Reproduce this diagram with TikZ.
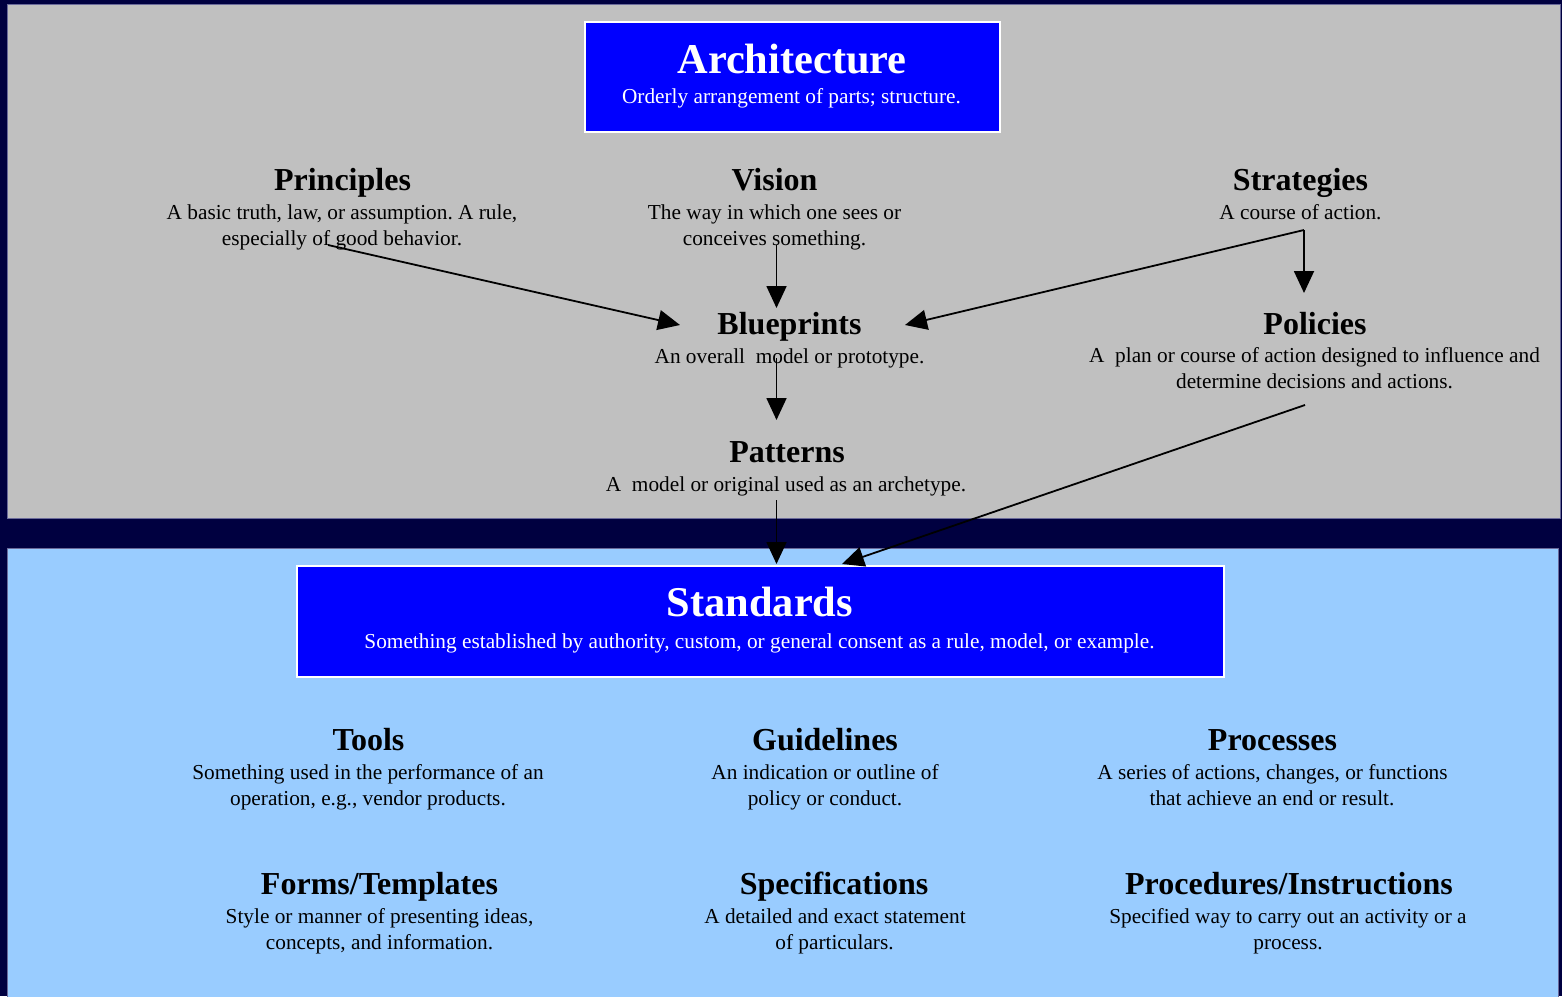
\documentclass[tikz,border=0pt]{standalone}
\usepackage{fontspec}
\setmainfont{Liberation Serif}
\frenchspacing
\usetikzlibrary{arrows.meta}
\definecolor{navy}{HTML}{000040}
\definecolor{panelgray}{HTML}{C0C0C0}
\definecolor{lightblue}{HTML}{99CCFF}
\definecolor{boxblue}{HTML}{0000FF}
\definecolor{paneledge}{HTML}{6A6A9A}
\begin{document}
\begin{tikzpicture}[x=1pt,y=-1pt,
  bigtitle/.style={font=\bfseries\fontsize{42.4}{50}\selectfont, text=white, inner sep=0pt, anchor=base},
  ctitle/.style={font=\bfseries\fontsize{32}{38}\selectfont, text=black, inner sep=0pt, anchor=base},
  desc/.style={font=\fontsize{21.3}{26}\selectfont, text=black, inner sep=0pt, anchor=base},
  wdesc/.style={desc, text=white},
  bluebox/.style={draw=white, line width=2pt, fill=boxblue, inner sep=0pt},
  conn/.style={draw=black, line width=1.8pt, -{Triangle[length=22pt,width=20pt]}}
]
\useasboundingbox (0,0) rectangle (1562,996);
% background and panels
\fill[navy] (0,0) rectangle (1562,996);
\filldraw[fill=panelgray, draw=paneledge, line width=0.6pt] (7,4) rectangle (1560,518);
\filldraw[fill=lightblue, draw=paneledge, line width=0.6pt] (7,548) rectangle (1558,1000);

% boxes
\node[bluebox, minimum width=415pt, minimum height=110pt] (arch) at (792.5,77) {};
\node[bluebox, minimum width=927pt, minimum height=111pt] (std) at (760.5,621.5) {};

% Architecture
\node[bigtitle] (archT) at (792,73) {Architecture};
\node[wdesc] (archD) at (791.5,103) {Orderly arrangement of parts; structure.};

% top row
\node[ctitle] (prT) at (342.5,190) {Principles};
\node[desc] (prD1) at (342,219) {A basic truth, law, or assumption. A rule,};
\node[desc] (prD2) at (342,245) {especially of good behavior.};

\node[ctitle] (viT) at (774.5,190) {Vision};
\node[desc] (viD1) at (774.5,219) {The way in which one sees or};
\node[desc] (viD2) at (774.5,245) {conceives something.};

\node[ctitle] (stT) at (1300.5,190) {Strategies};
\node[desc] (stD1) at (1300.5,219) {A course of action.};

% middle row
\node[ctitle] (blT) at (789.5,334) {Blueprints};
\node[desc] (blD1) at (789.5,363) {An overall~ model or prototype.};

\node[ctitle] (poT) at (1315,334) {Policies};
\node[desc] (poD1) at (1314.5,362) {A~ plan or course of action designed to influence and};
\node[desc] (poD2) at (1314.5,388) {determine decisions and actions.};

\node[ctitle] (paT) at (787,462) {Patterns};
\node[desc] (paD1) at (786,491) {A~ model or original used as an archetype.};

% Standards
\node[bigtitle] (stdT) at (760,616) {Standards};
\node[wdesc] (stdD) at (759.5,648) {Something established by authority, custom, or general consent as a rule, model, or example.};

% bottom rows
\node[ctitle] (toT) at (368.5,750) {Tools};
\node[desc] (toD1) at (368,779) {Something used in the performance of an};
\node[desc] (toD2) at (368,805) {operation, e.g., vendor products.};

\node[ctitle] (guT) at (825,750) {Guidelines};
\node[desc] (guD1) at (825,779) {An indication or outline of};
\node[desc] (guD2) at (825,805) {policy or conduct.};

\node[ctitle] (prcT) at (1272.5,750) {Processes};
\node[desc] (prcD1) at (1272.5,779) {A series of actions, changes, or functions};
\node[desc] (prcD2) at (1272,805) {that achieve an end or result.};

\node[ctitle] (fmT) at (379.5,894) {Forms/Templates};
\node[desc] (fmD1) at (379.5,923) {Style or manner of presenting ideas,};
\node[desc] (fmD2) at (379.5,949) {concepts, and information.};

\node[ctitle] (spT) at (834,894) {Specifications};
\node[desc] (spD1) at (835,923) {A detailed and exact statement};
\node[desc] (spD2) at (834.5,949) {of particulars.};

\node[ctitle] (pcT) at (1289,894) {Procedures/Instructions};
\node[desc] (pcD1) at (1288,923) {Specified way to carry out an activity or a};
\node[desc] (pcD2) at (1288,949) {process.};

% connector end points
\coordinate (prOut) at (328,245);
\coordinate (blInL) at (680,325);
\coordinate (viOut) at (776.5,245);
\coordinate (blInT) at (776.5,308);
\coordinate (stCorner) at (1304,230);
\coordinate (blInR) at (905,325);
\coordinate (poIn) at (1304,293);
\coordinate (blOut) at (776.5,358);
\coordinate (paIn) at (776.5,420);
\coordinate (paOut) at (776.5,500);
\coordinate (stdInA) at (776.5,564);
\coordinate (poOut) at (1305,405);
\coordinate (stdInB) at (842,564);

% connectors
\draw[conn] (prOut) -- (blInL);
\draw[conn] (viOut) -- (blInT);
\draw[conn] (stCorner) -- (blInR);
\draw[conn] (stCorner) -- (poIn);
\draw[conn] (blOut) -- (paIn);
\draw[conn] (paOut) -- (stdInA);
\draw[conn] (poOut) -- (stdInB);
\end{tikzpicture}
\end{document}
